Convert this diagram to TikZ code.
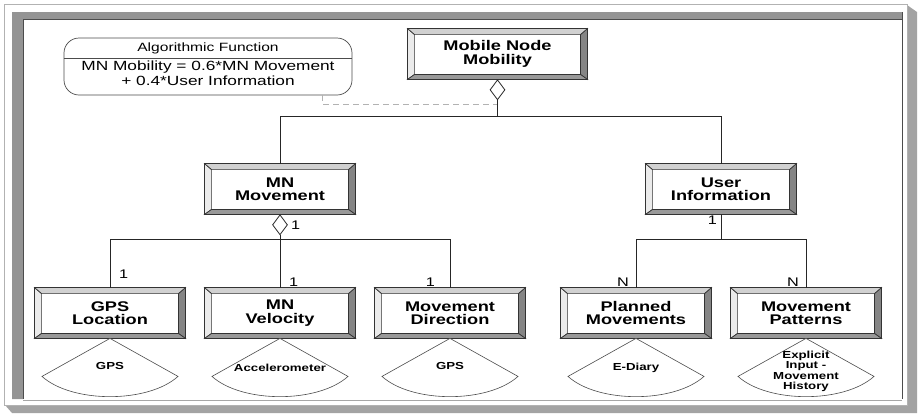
\documentclass[tikz,border=0pt]{standalone}
\usepackage{fontspec}
\setmainfont{Liberation Sans}[FakeStretch=1.3]
\usepackage{tikz}
\usetikzlibrary{%
	positioning,%
	calc,%
	shapes.geometric
}
\definecolor{framegray}{rgb}{0.64, 0.64, 0.64}
\definecolor{panelgray}{rgb}{0.58, 0.58, 0.58}
\definecolor{bevlight}{rgb}{0.92, 0.92, 0.92}
\definecolor{bevtop}{rgb}{0.82, 0.82, 0.82}
\definecolor{bevdark}{rgb}{0.52, 0.52, 0.52}
\definecolor{bevbottom}{rgb}{0.6, 0.6, 0.6}

% bevelled edge round an entity box
\newcommand{\bevel}[1]{%
	\filldraw[bevedge,fill=bevlight] (#1.north west) -- ([xshift=7pt,yshift=-6pt]#1.north west) -- ([xshift=7pt,yshift=5pt]#1.south west) -- (#1.south west) -- cycle;
	\filldraw[bevedge,fill=bevdark] (#1.north east) -- ([xshift=-7pt,yshift=-6pt]#1.north east) -- ([xshift=-7pt,yshift=5pt]#1.south east) -- (#1.south east) -- cycle;
	\filldraw[bevedge,fill=bevtop] (#1.north west) -- (#1.north east) -- ([xshift=-7pt,yshift=-6pt]#1.north east) -- ([xshift=7pt,yshift=-6pt]#1.north west) -- cycle;
	\filldraw[bevedge,fill=bevbottom] (#1.south west) -- (#1.south east) -- ([xshift=-7pt,yshift=5pt]#1.south east) -- ([xshift=7pt,yshift=5pt]#1.south west) -- cycle;
	\draw[bevedge] (#1.south west) rectangle (#1.north east);
}
% sensor sector under a box
\newcommand{\sensor}[4]{%
	\begin{scope}[shift={(#1.south)}]
		\filldraw[sensorshape] (0,0) -- (-68,38) .. controls (-38,65) and (38,65) .. (68,38) -- cycle;
		\node[sensortext] (#2) at (0,#3) {#4};
	\end{scope}
}

\begin{document}
\begin{tikzpicture}[x=1pt,y=-1pt,
		entity/.style={draw=black!85, fill=white, line width=0.8pt, minimum width=150pt, minimum height=50pt,
			inner sep=0pt, align=center, font=\bfseries\fontsize{14}{13.5}\selectfont},
		bevedge/.style={draw=black!80, line width=0.7pt, line join=miter},
		agg/.style={diamond, draw=black!85, fill=white, line width=0.8pt, inner sep=0pt,
			minimum width=15pt, minimum height=20pt},
		link/.style={draw=black!85, line width=1pt},
		notelink/.style={draw=black!30, line width=0.8pt, dash pattern=on 6pt off 4pt},
		mult/.style={inner sep=1pt, font=\fontsize{12.5}{12.5}\selectfont},
		notebox/.style={draw=black!70, fill=white, line width=0.7pt, rounded corners=15pt,
			minimum width=288pt, minimum height=57pt},
		sensorshape/.style={draw=black!70, fill=white, line width=0.6pt},
		sensortext/.style={inner sep=0pt, align=center, font=\bfseries\fontsize{10.2}{10.5}\selectfont}
	]
	\useasboundingbox (0,0) rectangle (919,413);
	
	% Frame
	\fill[framegray] (907,5) -- (917,12) -- (917,413) -- (12,413) -- (5,405) -- (907,405) -- cycle;
	\draw[black!30, line width=0.6pt] (4,4) rectangle (907,405);
	\fill[panelgray] (12,12) -- (902,12) -- (902,19) -- (23,19) -- (23,399) -- (12,399) -- cycle;
	\draw[black!70, line width=0.8pt] (23,399) -- (23,19) -- (902,19);
	\draw[black!70, line width=0.8pt] (902,12) -- (902,399);
	\draw[black!35, line width=0.6pt] (23,400) -- (902,400);
	
	% Entities
	\node[entity, minimum width=179pt] (mnm) at (497.5,54) {Mobile Node\\Mobility};
	\node[entity] (mov) at (280,189) {MN\\Movement};
	\node[entity] (uinf) at (721,189) {User\\Information};
	\node[entity] (gps) at (110,313) {GPS\\Location};
	\node[entity] (vel) at (280,313) {MN\\Velocity};
	\node[entity] (dir) at (450,313) {Movement\\Direction};
	\node[entity] (pla) at (636,313) {Planned\\Movements};
	\node[entity] (pat) at (806,313) {Movement\\Patterns};
	\foreach \b in {mnm,mov,uinf,gps,vel,dir,pla,pat}
		\bevel{\b};
	
	% Algorithmic function note
	\node[notebox] (algo) at (208,66.5) {};
	\node[inner sep=0pt, font=\fontsize{12}{12}\selectfont] (algohead) at (208,48) {Algorithmic Function};
	\node[inner sep=0pt, align=center, font=\fontsize{13.3}{15}\selectfont] (algobody) at (208,73.5)
		{MN Mobility = 0.6*MN Movement\\+ 0.4*User Information};
	\draw[black!70, line width=0.7pt] (algo.west |- 0,58.5) -- (algo.east |- 0,58.5);
	
	% Aggregation of the top entity
	\node[agg, below=0pt of mnm] (dmnm) {};
	\coordinate (topbar) at (497.5,116);
	\coordinate (algojoin) at (497.5,104);
	\draw[notelink] ([xshift=114pt]algo.south) |- (algojoin);
	\draw[link] (dmnm.south) -- (topbar);
	\draw[link] (mov.north) |- (topbar);
	\draw[link] (uinf.north) |- (topbar);
	
	% MN Movement parts
	\node[agg, below=0pt of mov] (dmov) {};
	\coordinate (movbar) at (280,239);
	\draw[link] (dmov.south) -- (movbar);
	\draw[link] (gps.north) |- (movbar);
	\draw[link] (vel.north) -- (movbar);
	\draw[link] (dir.north) |- (movbar);
	
	% User Information parts
	\coordinate (uinfbar) at (721,239);
	\draw[link] (uinf.south) -- (uinfbar);
	\draw[link] (pla.north) |- (uinfbar);
	\draw[link] (pat.north) |- (uinfbar);
	
	% Multiplicities
	\node[mult, right=2pt of dmov] (mmov) {1};
	\node[mult, anchor=north east] (muinf) at ([xshift=-3pt]uinf.south) {1};
	\node[mult, anchor=south west] (mgps) at ([xshift=8pt,yshift=8pt]gps.north) {1};
	\node[mult, anchor=south west] (mvel) at ([xshift=8pt]vel.north) {1};
	\node[mult, anchor=south east] (mdir) at ([xshift=-14pt]dir.north) {1};
	\node[mult, anchor=south east] (mpla) at ([xshift=-6pt]pla.north) {N};
	\node[mult, anchor=south east] (mpat) at ([xshift=-6pt]pat.north) {N};
	
	% Sensors
	\sensor{gps}{sgps}{28}{GPS}
	\sensor{vel}{svel}{29}{Accelerometer}
	\sensor{dir}{sdir}{28}{GPS}
	\sensor{pla}{spla}{29}{E-Diary}
	\sensor{pat}{spat}{33}{Explicit\\Input -\\Movement\\History}
\end{tikzpicture}
\end{document}
